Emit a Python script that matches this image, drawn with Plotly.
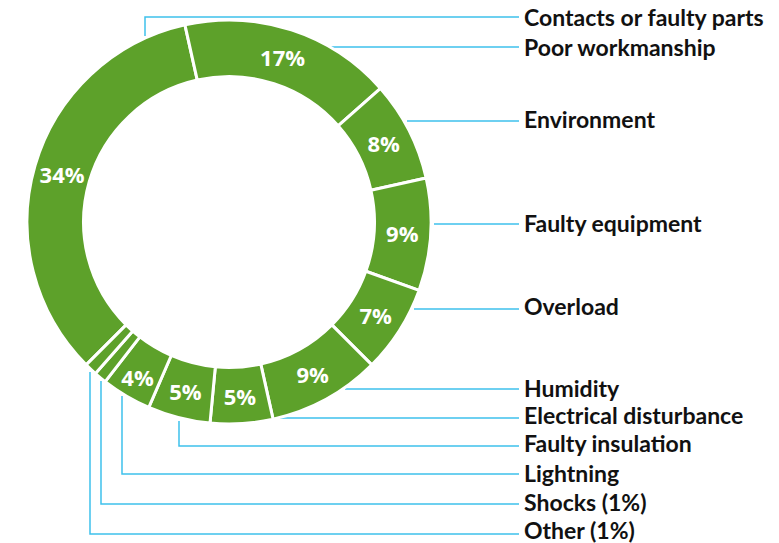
import plotly.graph_objects as go

# ---- data ----
causes = ["Contacts or faulty parts", "Poor workmanship", "Environment", "Faulty equipment",
          "Overload", "Humidity", "Electrical disturbance", "Faulty insulation",
          "Lightning", "Shocks (1%)", "Other (1%)"]
shares = [34, 17, 8, 9, 7, 9, 5, 5, 4, 1, 1]

W, H = 779, 543
GREEN = "#5DA12A"
BLUE = "#3EC1EC"

# pie geometry (pixels)
CX, CY, R = 229, 222, 202

def px(x):
    return x / W

def py(y):
    return 1 - y / H

slice_text = [f"{v}%" if v > 1 else "" for v in shares]

fig = go.Figure(go.Pie(
    labels=causes,
    values=shares,
    text=slice_text,
    textinfo="text",
    sort=False,
    direction="clockwise",
    rotation=225,
    hole=0.72,
    marker=dict(colors=[GREEN] * len(shares), line=dict(color="white", width=3)),
    textposition="inside",
    insidetextorientation="horizontal",
    textfont=dict(family="Open Sans", size=22, color="white", weight="bold"),
    domain=dict(x=[px(CX - R), px(CX + R)], y=[py(CY + R), py(CY - R)]),
    showlegend=False,
    hoverinfo="label+percent",
))

# leader lines: list of polylines in pixels, and label y positions
label_y = [17, 47, 119, 223, 306, 388, 415, 443, 473, 502, 530]
leaders = [
    [(145, 36), (145, 17), (519, 17)],
    [(331, 47), (519, 47)],
    [(407, 121), (519, 121)],
    [(434, 224), (519, 224)],
    [(414, 309), (519, 309)],
    [(345, 389), (519, 389)],
    [(278, 418), (519, 418)],
    [(179, 421), (179, 446), (519, 446)],
    [(122, 396), (122, 474), (519, 474)],
    [(101, 381), (101, 504), (519, 504)],
    [(90, 372), (90, 534), (519, 534)],
]

shapes = []
for pts in leaders:
    path = "M " + " L ".join(f"{px(x):.5f},{py(y):.5f}" for x, y in pts)
    shapes.append(dict(type="path", path=path, xref="paper", yref="paper",
                       line=dict(color=BLUE, width=1.5), layer="below"))

annotations = []
for name, y in zip(causes, label_y):
    annotations.append(dict(text=name, x=px(522), y=py(y), xref="paper", yref="paper",
                            xanchor="left", yanchor="middle", showarrow=False,
                            font=dict(family="Lato", size=23, color="#111111", weight="bold")))

fig.update_layout(
    width=W, height=H,
    margin=dict(l=0, r=0, t=0, b=0),
    paper_bgcolor="white", plot_bgcolor="white",
    shapes=shapes, annotations=annotations,
    uniformtext=dict(minsize=22, mode="show"),
)

fig.write_html("out.html", config={"displayModeBar": False},
               post_script="document.body.style.margin='0';")
